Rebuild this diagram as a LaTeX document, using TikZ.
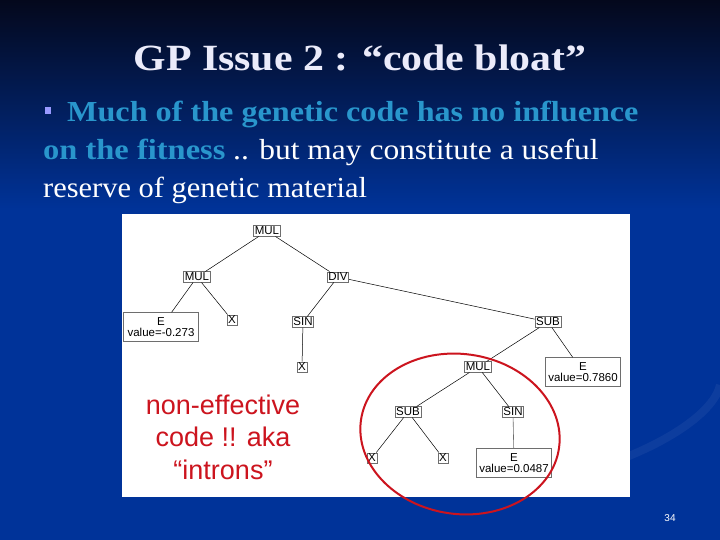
\documentclass[tikz,border=0pt]{standalone}
\usepackage{fontspec}
\usepackage{graphicx}
\setmainfont{Liberation Serif}
\newfontfamily\arialfont{Liberation Sans}
\definecolor{bgblue}{RGB}{0,51,153}
\definecolor{bgtop}{RGB}{4,8,28}
\definecolor{tealtxt}{RGB}{41,150,204}
\definecolor{bulletc}{RGB}{153,153,255}
\definecolor{redc}{RGB}{204,20,30}
\definecolor{boxgray}{RGB}{110,110,110}
\definecolor{titlec}{RGB}{235,235,250}
\begin{document}
\begin{tikzpicture}[x=1pt,y=-1pt,
  tn/.style={draw=boxgray,fill=white,line width=0.6pt,inner sep=1.2pt,font=\arialfont\fontsize{11.5}{10.5}\selectfont,align=center,text=black},
  ebox/.style={tn,minimum width=75pt,minimum height=29pt,inner sep=0.5pt},
  edge/.style={black,line width=0.5pt},
  gedge/.style={boxgray,line width=0.6pt},
  body/.style={anchor=base west,inner sep=0,font=\fontsize{29}{29}\selectfont}]
\useasboundingbox (0,0) rectangle (720,540);
% background
\fill[bgblue] (0,0) rectangle (720,540);
\shade[top color=bgtop,bottom color=bgblue] (0,0) rectangle (720,210);
% faint swirl
\draw[white,opacity=0.05,line width=8pt] (590,470) .. controls (670,445) and (715,410) .. (720,385);
% title
\node[text=titlec,font=\bfseries\fontsize{37}{37}\selectfont,anchor=base] (title) at (360,71) {\scalebox{1.13}[1]{GP Issue 2 : “code bloat”}};
% bullet text
\fill[bulletc] (45,107) rectangle (51,114);
\node[body,text=tealtxt] (l1) at (67,122) {\scalebox{1.11}[1]{\bfseries Much of the genetic code has no influence}};
\node[body,text=tealtxt] (l2a) at (43,160) {\scalebox{1.12}[1]{\bfseries on the fitness}};
\node[body,text=white] (l2b) at (233,160) {\scalebox{1.085}[1]{.. but may constitute a useful}};
\node[body,text=white] (l3) at (43,198) {\scalebox{1.05}[1]{reserve of genetic material}};
% white panel
\fill[white] (122,214) rectangle (630,497);
% tree
\node[tn] (mul0) at (267,231) {MUL};
\node[tn] (mul1) at (197,277) {MUL};
\node[tn] (div) at (338,277) {DIV};
\node[ebox] (e1) at (161,327) {E\\value=-0.273};
\node[tn] (x1) at (232,320) {X};
\node[tn] (sin1) at (303,322) {SIN};
\node[tn] (x2) at (302,367) {X};
\node[tn] (sub1) at (548,322) {SUB};
\node[ebox] (e2) at (583,372) {E\\value=0.7860};
\node[tn] (mul2) at (478,367) {MUL};
\node[tn] (sub2) at (408,412) {SUB};
\node[tn] (sin2) at (513,412) {SIN};
\node[tn] (x3) at (372,458) {X};
\node[tn] (x4) at (443,458) {X};
\node[ebox] (e3) at (514,463) {E\\value=0.0487};
\draw[edge] (mul0) -- (mul1);
\draw[edge] (mul0) -- (div);
\draw[edge] (mul1) -- (e1);
\draw[edge] (mul1) -- (x1);
\draw[edge] (div) -- (sin1);
\draw[edge] (sin1) -- (x2);
\draw[edge] (div) -- (sub1);
\draw[edge] (sub1) -- (mul2);
\draw[edge] (sub1) -- (e2);
\draw[edge] (mul2) -- (sub2);
\draw[edge] (mul2) -- (sin2);
\draw[edge] (sub2) -- (x3);
\draw[edge] (sub2) -- (x4);
\draw[gedge] (sin2) -- (e3);
% red annotation
\node[text=redc,font=\arialfont\fontsize{27}{32.5}\selectfont,align=center] (note) at (223,437) {non-effective\\code !! aka\\“introns”};
\draw[redc,line width=2pt,rotate around={-8:(460,434)}] (460,434) ellipse [x radius=100,y radius=80];
% page number
\node[text=white,font=\arialfont\fontsize{10}{10}\selectfont] (pg) at (670,518) {34};
\end{tikzpicture}
\end{document}
